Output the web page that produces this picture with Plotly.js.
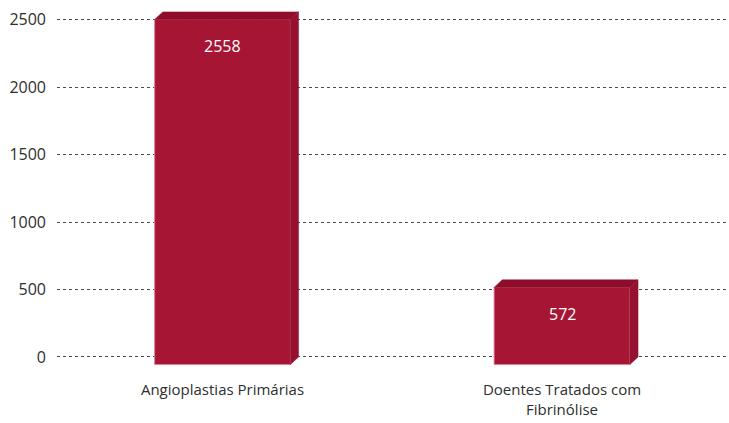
<!DOCTYPE html>
<html>
<head>
<meta charset="utf-8">
<script src="https://cdn.plot.ly/plotly-3.0.1.min.js"></script>
<style>html,body{margin:0;padding:0;background:#fff;}#chart{width:729px;height:423px;}</style>
</head>
<body>
<div id="chart"></div>
<script>
// Data
var categories = ["Angioplastias Primárias", "Doentes Tratados com<br>Fibrinólise"];
var values = [2558, 572];
var yTicks = [0, 500, 1000, 1500, 2000, 2500];

// 3D depth styling (in axis units)
var pos = categories.map(function(_, i){ return i; });
var barW = 0.40;
var dX = 0.024;
var dY = 56;

var frontColor = "#A71535";
var topColor = "#8E0D2B";
var sideColor = "#95112F";

var traces = [];
// front face: from -dY up to value - dY
traces.push({
  type: "bar",
  x: pos,
  y: values,
  base: values.map(function(){ return -dY; }),
  width: barW,
  marker: {color: frontColor, line: {color: "rgba(225,130,150,0.9)", width: 1}},
  hoverinfo: "skip",
  showlegend: false
});
values.forEach(function(v, i){
  var x0 = pos[i] - barW/2, x1 = pos[i] + barW/2;
  var top = v - dY;
  traces.push({
    type: "scatter", mode: "lines", fill: "toself",
    x: [x0, x0 + dX, x1 + dX, x1, x0],
    y: [top, v, v, top, top],
    fillcolor: topColor, line: {color: topColor, width: 0.5},
    hoverinfo: "skip", showlegend: false
  });
  traces.push({
    type: "scatter", mode: "lines", fill: "toself",
    x: [x1, x1 + dX, x1 + dX, x1, x1],
    y: [-dY, 0, v, top, -dY],
    fillcolor: sideColor, line: {color: sideColor, width: 0.5},
    hoverinfo: "skip", showlegend: false
  });
});

var annotations = values.map(function(v, i){
  return {
    x: pos[i], y: v - dY, xref: "x", yref: "y",
    text: String(v), showarrow: false, yshift: -27,
    font: {family: "Open Sans, sans-serif", size: 16, color: "#ffffff"}
  };
});

var layout = {
  width: 729, height: 423,
  margin: {l: 57, r: 2, t: 5, b: 53},
  paper_bgcolor: "#ffffff", plot_bgcolor: "#ffffff",
  showlegend: false,
  font: {family: "Open Sans, sans-serif", size: 16, color: "#2e2e2e"},
  xaxis: {
    range: [-0.4875, 1.486],
    tickvals: pos, ticktext: categories,
    showgrid: false, zeroline: false, showline: false,
    ticks: "", ticklabelstandoff: 9,
    tickfont: {family: "Open Sans, sans-serif", size: 15, color: "#2e2e2e"},
    fixedrange: true
  },
  yaxis: {
    range: [-96.4, 2609],
    tickvals: yTicks,
    showgrid: true, gridcolor: "#4a4a4a", gridwidth: 1, griddash: "dot",
    zeroline: false, showline: false, ticks: "",
    ticklabelstandoff: 10,
    tickfont: {family: "Open Sans, sans-serif", size: 16, color: "#2e2e2e"},
    fixedrange: true
  },
  annotations: annotations,
  barmode: "overlay"
};

Plotly.newPlot("chart", traces, layout, {displayModeBar: false, staticPlot: true});
</script>
</body>
</html>
